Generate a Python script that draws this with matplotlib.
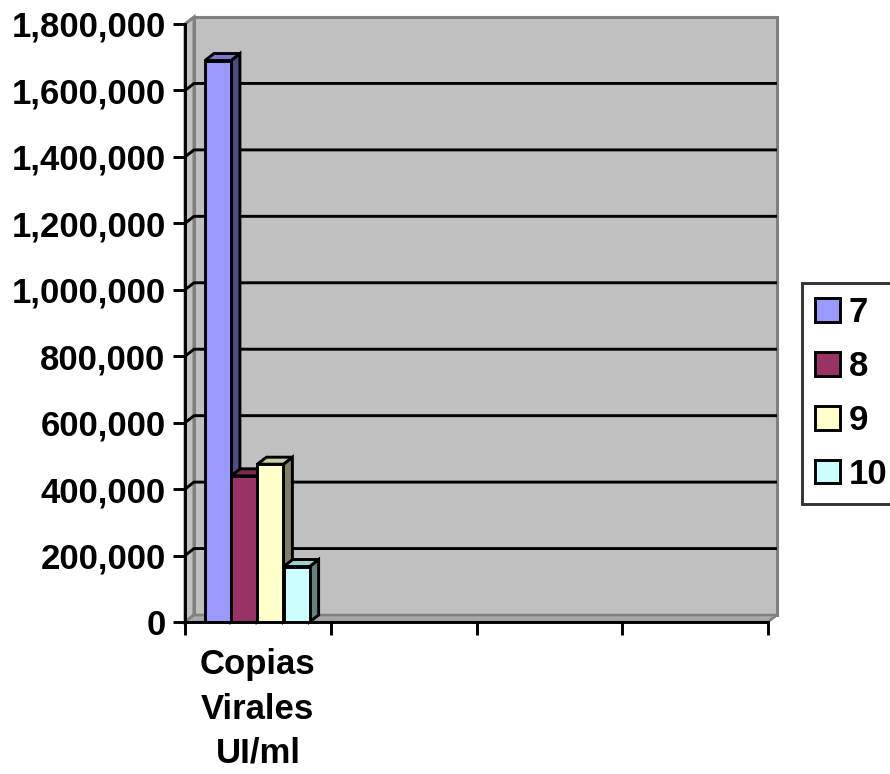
import matplotlib
matplotlib.use("Agg")
import matplotlib.pyplot as plt
from matplotlib.patches import Polygon
from matplotlib.ticker import FuncFormatter, FixedLocator

# ---- data ----
series = ["7", "8", "9", "10"]
values = [1690000, 440000, 475000, 167000]
categories = ["Copias\nVirales\nUI/ml", "", "", ""]
yticks = [0, 200000, 400000, 600000, 800000, 1000000, 1200000, 1400000, 1600000, 1800000]

front_colors = ["#9999FF", "#993366", "#FFFFCC", "#CCFFFF"]
side_colors = ["#4D4D80", "#4D1A33", "#808066", "#668080"]
top_colors = ["#7A7ACC", "#7A2952", "#CCCCA3", "#A3CCCC"]

plt.rcParams["font.family"] = ["Liberation Sans", "DejaVu Sans"]
plt.rcParams["font.weight"] = "bold"
FS = 25
LW = 2.1

W, H = 890, 774
fig = plt.figure(figsize=(W / 100, H / 100), dpi=100)
ax = fig.add_axes([185 / W, (H - 622) / H, (768 - 185) / W, (622 - 24) / H])
ymax = yticks[-1]
ncat = len(categories)
ax.set_xlim(0, ncat)
ax.set_ylim(0, ymax)
ax.patch.set_visible(False)

# depth of the 3-D box in data units
dx = 9 / 583 * ncat
dy = 7 / 598 * ymax

wall_c = "#C0C0C0"
edge_c = "#808080"
# back wall
ax.add_patch(Polygon([(dx, dy), (ncat + dx, dy), (ncat + dx, ymax + dy), (dx, ymax + dy)],
                     closed=True, facecolor=wall_c, edgecolor=edge_c, lw=2.2,
                     clip_on=False, zorder=0.5))
# side wall
ax.add_patch(Polygon([(0, 0), (dx, dy), (dx, ymax + dy), (0, ymax)],
                     closed=True, facecolor=wall_c, edgecolor=edge_c, lw=2.2,
                     clip_on=False, zorder=0.6))
# floor
ax.add_patch(Polygon([(0, 0), (ncat, 0), (ncat + dx, dy), (dx, dy)],
                     closed=True, facecolor="#A8A8A8", edgecolor=edge_c, lw=1.8,
                     clip_on=False, zorder=0.7))

# gridlines on side and back walls
for v in yticks[1:-1]:
    ax.plot([0, dx, ncat + dx], [v, v + dy, v + dy], color="black", lw=LW,
            clip_on=False, zorder=1, solid_capstyle="butt")

# bars
bar_w = 0.178
x0 = [0.137 + i * 0.18 for i in range(len(series))]
rects = ax.bar(x0, values, width=bar_w, align="edge", color=front_colors,
               edgecolor="black", linewidth=LW, label=series)
for i, r in enumerate(rects):
    r.set_zorder(3 + i * 0.1 + 0.05)
    xl, xr, h = r.get_x(), r.get_x() + r.get_width(), r.get_height()
    side = Polygon([(xr, 0), (xr + dx, dy), (xr + dx, h + dy), (xr, h)], closed=True,
                   facecolor=side_colors[i], edgecolor="black", lw=LW,
                   clip_on=False, zorder=3 + i * 0.1)
    top = Polygon([(xl, h), (xl + dx, h + dy), (xr + dx, h + dy), (xr, h)], closed=True,
                  facecolor=top_colors[i], edgecolor="black", lw=LW,
                  clip_on=False, zorder=3 + i * 0.1)
    ax.add_patch(side)
    ax.add_patch(top)

# axes
for s in ["top", "right"]:
    ax.spines[s].set_visible(False)
for s in ["left", "bottom"]:
    ax.spines[s].set_linewidth(LW)
    ax.spines[s].set_zorder(5)

ax.set_yticks(yticks)
ax.yaxis.set_major_formatter(FuncFormatter(lambda v, p: f"{int(v):,}"))
ax.tick_params(axis="y", length=9, width=LW, pad=5, labelsize=FS)

ax.xaxis.set_major_locator(FixedLocator([i + 0.5 for i in range(ncat)]))
ax.set_xticklabels(categories)
ax.xaxis.set_minor_locator(FixedLocator(list(range(ncat + 1))))
ax.tick_params(axis="x", which="major", length=0, pad=19, labelsize=FS)
ax.tick_params(axis="x", which="minor", length=9, width=LW)
for t in ax.get_xticklabels():
    t.set_linespacing(1.43)
    t.set_fontweight("bold")
for t in ax.get_yticklabels():
    t.set_fontweight("bold")

leg = fig.legend(handles=list(rects), labels=series, loc="upper left",
                 bbox_to_anchor=(802 / W, 1 - 283 / H),
                 prop={"weight": "bold", "size": FS},
                 frameon=True, fancybox=False, edgecolor="black",
                 handlelength=0.72, handleheight=0.68, handletextpad=0.25,
                 labelspacing=0.6, borderpad=0.38, borderaxespad=0)
leg.get_frame().set_linewidth(LW)
for hnd in leg.legend_handles:
    hnd.set_linewidth(LW)

fig.savefig("out.png", dpi=100)
